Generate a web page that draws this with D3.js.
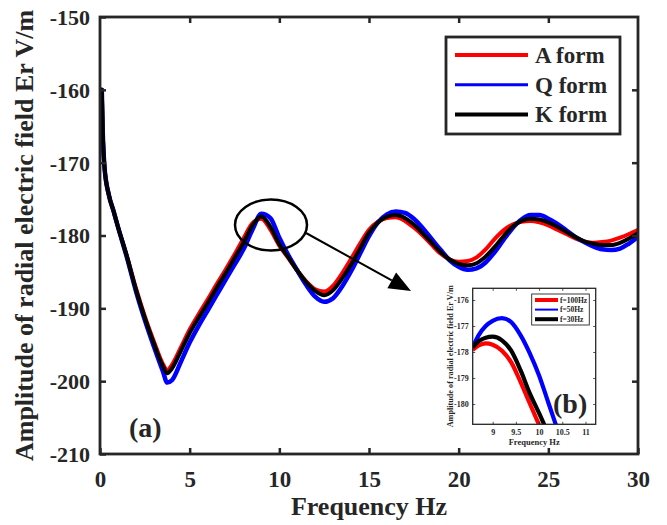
<!DOCTYPE html>
<html><head><meta charset="utf-8">
<script src="https://cdn.jsdelivr.net/npm/d3@7"></script>
<style>
html,body{margin:0;padding:0;background:#fff;}
svg text{font-family:"Liberation Serif","Times New Roman",serif;font-weight:bold;fill:#262626;}
</style></head>
<body><svg id="c" width="667" height="525"></svg>
<script>
// ---------- data (main chart) ----------
const freq = [0.1,0.15,0.25,0.5,0.75,1,1.5,2,2.5,3,3.5,3.75,4,4.5,5,5.5,6,6.5,7,7.5,8,8.5,9,9.5,10,10.5,11,11.5,12,12.5,13,13.5,14,14.5,15,15.5,16,16.5,17,17.5,18,18.5,19,19.5,20,20.5,21,21.5,22,22.5,23,23.5,24,24.5,25,25.5,26,26.5,27,27.5,28,28.5,29,29.5,30];
const aForm = [-160.0,-165.5,-170.6,-174.5,-176.6,-178.8,-182.8,-187.2,-191.1,-194.5,-197.6,-198.5,-197.8,-195.4,-192.9,-190.8,-188.8,-186.7,-184.7,-182.6,-180.4,-178.3,-177.7,-179.2,-181.4,-183.1,-184.8,-186.3,-187.4,-187.7,-186.9,-185.2,-183.2,-181.1,-179.2,-178.1,-177.6,-177.5,-178.0,-178.9,-180.0,-181.3,-182.5,-183.3,-183.6,-183.5,-183.0,-181.9,-180.5,-179.3,-178.5,-178.1,-178.0,-178.2,-178.6,-179.2,-179.8,-180.4,-180.8,-181.0,-180.9,-180.7,-180.3,-179.8,-179.2];
const qForm = [-160.0,-165.5,-170.6,-174.5,-176.6,-178.8,-183.0,-187.6,-191.6,-195.2,-198.6,-200.2,-199.9,-197.4,-194.7,-192.4,-190.3,-188.2,-186.1,-184.0,-181.9,-179.2,-177.0,-177.6,-180.3,-182.7,-184.8,-186.8,-188.4,-189.1,-188.6,-187.0,-184.9,-182.5,-180.1,-178.2,-177.1,-176.7,-176.9,-177.7,-179.0,-180.5,-182.0,-183.4,-184.3,-184.7,-184.5,-183.7,-182.3,-180.6,-179.0,-177.8,-177.2,-177.2,-177.7,-178.4,-179.3,-180.2,-180.9,-181.5,-181.9,-182.0,-181.8,-181.1,-180.2];
const kForm = [-160.0,-165.5,-170.6,-174.5,-176.6,-178.8,-182.9,-187.4,-191.3,-194.8,-197.9,-198.9,-198.3,-195.9,-193.4,-191.3,-189.3,-187.2,-185.2,-183.1,-181.0,-178.6,-177.4,-178.8,-181.2,-183.0,-184.8,-186.4,-187.6,-188.2,-187.5,-185.9,-184.0,-181.8,-179.6,-178.2,-177.4,-177.2,-177.6,-178.5,-179.7,-181.0,-182.3,-183.3,-183.9,-184.1,-183.8,-182.9,-181.6,-180.1,-178.8,-178.0,-177.7,-177.8,-178.2,-178.8,-179.5,-180.2,-180.8,-181.1,-181.3,-181.3,-181.0,-180.4,-179.7];
const seriesNames = ["A form","Q form","K form"];
const seriesColors = ["#ff0000","#0000ff","#000000"];
const xTicks = [0,5,10,15,20,25,30];
const yTicks = [-210,-200,-190,-180,-170,-160,-150];

// ---------- data (inset) ----------
const insetFreq = [8.57,8.7,8.85,9.0,9.2,9.4,9.6,9.8,10.0,10.2,10.4];
const inset100 = [-177.92,-177.75,-177.67,-177.72,-177.95,-178.4,-179.15,-179.98,-180.8,-181.6,-182.4];
const inset50  = [-177.82,-177.35,-177.0,-176.8,-176.7,-176.85,-177.35,-178.05,-178.9,-179.95,-181.0];
const inset30  = [-177.82,-177.58,-177.45,-177.41,-177.55,-177.95,-178.7,-179.59,-180.35,-181.15,-181.95];
const insetNames = ["f=100Hz","f=50Hz","f=30Hz"];
const insetXTicks = [9,9.5,10,10.5,11];
const insetYTicks = [-180,-179,-178,-177,-176];

const svg = d3.select("#c");
const axisColor = "#262626";

// ---------- main axes ----------
const M = {l:100, r:638, t:17, b:454};
const x = d3.scaleLinear().domain([0,30]).range([M.l,M.r]);
const y = d3.scaleLinear().domain([-210,-150]).range([M.b,M.t]);

svg.append("clipPath").attr("id","mainclip").append("rect")
  .attr("x",M.l).attr("y",M.t).attr("width",M.r-M.l).attr("height",M.b-M.t);

const line = d3.line().x(d=>x(d[0])).y(d=>y(d[1])).curve(d3.curveMonotoneX);
const allSeries = [aForm,qForm,kForm];
const widths = [4,4.5,4];
const gLines = svg.append("g").attr("clip-path","url(#mainclip)");
allSeries.forEach((s,i)=>{
  gLines.append("path").datum(freq.map((f,j)=>[f,s[j]]))
    .attr("d",line).attr("fill","none").attr("stroke",seriesColors[i])
    .attr("stroke-width",widths[i]).attr("stroke-linejoin","round").attr("stroke-linecap","round");
});

function styleAxis(g){
  g.select(".domain").remove();
  g.selectAll(".tick line").attr("stroke",axisColor).attr("stroke-width",2.5);
}
svg.append("g").attr("transform",`translate(0,${M.b})`)
  .call(d3.axisBottom(x).tickValues(xTicks).tickSize(-6).tickFormat(d=>String(d)))
  .call(styleAxis)
  .call(g=>g.selectAll("text").attr("y",0).attr("dy",0).attr("transform","translate(0,33)")
     .style("font-size","23px").attr("fill",axisColor).attr("font-family",null));
svg.append("g").attr("transform",`translate(0,${M.t})`)
  .call(d3.axisTop(x).tickValues(xTicks.slice(1,-1)).tickSize(-6).tickFormat(""))
  .call(styleAxis);
svg.append("g").attr("transform",`translate(${M.l},0)`)
  .call(d3.axisLeft(y).tickValues(yTicks).tickSize(-6).tickFormat(d=>String(d)))
  .call(styleAxis)
  .call(g=>g.selectAll("text").attr("x",-10).attr("dy","0.34em")
     .style("font-size","22px").attr("fill",axisColor).attr("font-family",null));
svg.append("g").attr("transform",`translate(${M.r},0)`)
  .call(d3.axisRight(y).tickValues(yTicks.slice(1,-1)).tickSize(-6).tickFormat(""))
  .call(styleAxis);
svg.append("rect").attr("x",M.l).attr("y",M.t).attr("width",M.r-M.l).attr("height",M.b-M.t)
  .attr("fill","none").attr("stroke",axisColor).attr("stroke-width",2.8);

svg.append("text").attr("x",(M.l+M.r)/2).attr("y",515).attr("text-anchor","middle")
  .style("font-size","26px").text("Frequency Hz");
svg.append("text").attr("transform",`translate(33,${(M.t+M.b)/2}) rotate(-90)`)
  .attr("text-anchor","middle").style("font-size","26px")
  .text("Amplitude of radial electric field Er V/m");

svg.append("text").attr("x",129).attr("y",437).style("font-size","28px").attr("fill","#000").text("(a)");

// legend main
const lg = svg.append("g");
lg.append("rect").attr("x",446).attr("y",37).attr("width",174).attr("height",97)
  .attr("fill","#fff").attr("stroke",axisColor).attr("stroke-width",2.8);
seriesNames.forEach((n,i)=>{
  const yy = 55 + i*29.7;
  lg.append("line").attr("x1",455).attr("x2",528).attr("y1",yy).attr("y2",yy)
    .attr("stroke",seriesColors[i]).attr("stroke-width",i===1?3:4);
  lg.append("text").attr("x",535).attr("y",yy+8).style("font-size","23px").attr("fill","#000").text(n);
});

// ellipse + arrow annotation
svg.append("ellipse").attr("cx",271).attr("cy",225).attr("rx",36).attr("ry",25.5)
  .attr("fill","none").attr("stroke","#000").attr("stroke-width",2.5);
const a0=[306,233], a1=[411,291];
const ang=Math.atan2(a1[1]-a0[1],a1[0]-a0[0]);
const hl=22, hw=9;
const bx=a1[0]-hl*Math.cos(ang), by=a1[1]-hl*Math.sin(ang);
svg.append("line").attr("x1",a0[0]).attr("y1",a0[1]).attr("x2",bx).attr("y2",by)
  .attr("stroke","#000").attr("stroke-width",2);
svg.append("polygon").attr("points",[
  a1, [bx+hw*Math.sin(ang), by-hw*Math.cos(ang)], [bx-hw*Math.sin(ang), by+hw*Math.cos(ang)]
].map(p=>p.join(",")).join(" ")).attr("fill","#000");

// ---------- inset ----------
const I = {l:472.7, r:595.7, t:288.3, b:424.3};
const xi = d3.scaleLinear().domain([8.57,11.22]).range([I.l,I.r]);
const yi = d3.scaleLinear().domain([-180.78,-175.55]).range([I.b,I.t]);
svg.append("rect").attr("x",I.l).attr("y",I.t).attr("width",I.r-I.l).attr("height",I.b-I.t).attr("fill","#fff");
svg.append("clipPath").attr("id","insetclip").append("rect")
  .attr("x",I.l).attr("y",I.t).attr("width",I.r-I.l).attr("height",I.b-I.t);
const lineI = d3.line().x(d=>xi(d[0])).y(d=>yi(d[1])).curve(d3.curveMonotoneX);
const gi = svg.append("g").attr("clip-path","url(#insetclip)");
[inset100,inset50,inset30].forEach((s,i)=>{
  gi.append("path").datum(insetFreq.map((f,j)=>[f,s[j]])).attr("d",lineI)
    .attr("fill","none").attr("stroke",seriesColors[i]).attr("stroke-width",4.2);
});
function styleAxisI(g){
  g.select(".domain").remove();
  g.selectAll(".tick line").attr("stroke",axisColor).attr("stroke-width",0.8);
}
svg.append("g").attr("transform",`translate(0,${I.b})`)
  .call(d3.axisBottom(xi).tickValues(insetXTicks).tickSize(-2.5).tickFormat(d=>String(d)))
  .call(styleAxisI)
  .call(g=>g.selectAll("text").attr("y",0).attr("dy",0).attr("transform","translate(0,11)")
     .style("font-size","8px").attr("fill",axisColor).attr("font-family",null));
svg.append("g").attr("transform",`translate(0,${I.t})`)
  .call(d3.axisTop(xi).tickValues(insetXTicks).tickSize(-2.5).tickFormat("")).call(styleAxisI);
svg.append("g").attr("transform",`translate(${I.l},0)`)
  .call(d3.axisLeft(yi).tickValues(insetYTicks).tickSize(-2.5).tickFormat(d=>String(d)))
  .call(styleAxisI)
  .call(g=>g.selectAll("text").attr("x",-4).attr("dy","0.34em")
     .style("font-size","8px").attr("fill",axisColor).attr("font-family",null));
svg.append("g").attr("transform",`translate(${I.r},0)`)
  .call(d3.axisRight(yi).tickValues(insetYTicks).tickSize(-2.5).tickFormat("")).call(styleAxisI);
svg.append("rect").attr("x",I.l).attr("y",I.t).attr("width",I.r-I.l).attr("height",I.b-I.t)
  .attr("fill","none").attr("stroke",axisColor).attr("stroke-width",1.3);
svg.append("text").attr("x",(I.l+I.r)/2).attr("y",445).attr("text-anchor","middle")
  .style("font-size","8.5px").text("Frequency Hz");
svg.append("text").attr("transform",`translate(453,${(I.t+I.b)/2}) rotate(-90)`)
  .attr("text-anchor","middle").style("font-size","8.2px")
  .text("Amplitude of radial electric field Er V/m");
svg.append("text").attr("x",553).attr("y",413).style("font-size","28px").attr("fill","#000").text("(b)");
const lgi = svg.append("g");
lgi.append("rect").attr("x",531.7).attr("y",294).attr("width",57.6).attr("height",31)
  .attr("fill","#fff").attr("stroke",axisColor).attr("stroke-width",0.9);
insetNames.forEach((n,i)=>{
  const yy = 300 + i*9.6;
  lgi.append("line").attr("x1",535).attr("x2",558).attr("y1",yy).attr("y2",yy)
    .attr("stroke",seriesColors[i]).attr("stroke-width",i===1?2:4);
  lgi.append("text").attr("x",560).attr("y",yy+2.8).style("font-size","7.5px").attr("fill","#000").text(n);
});
</script></body></html>
